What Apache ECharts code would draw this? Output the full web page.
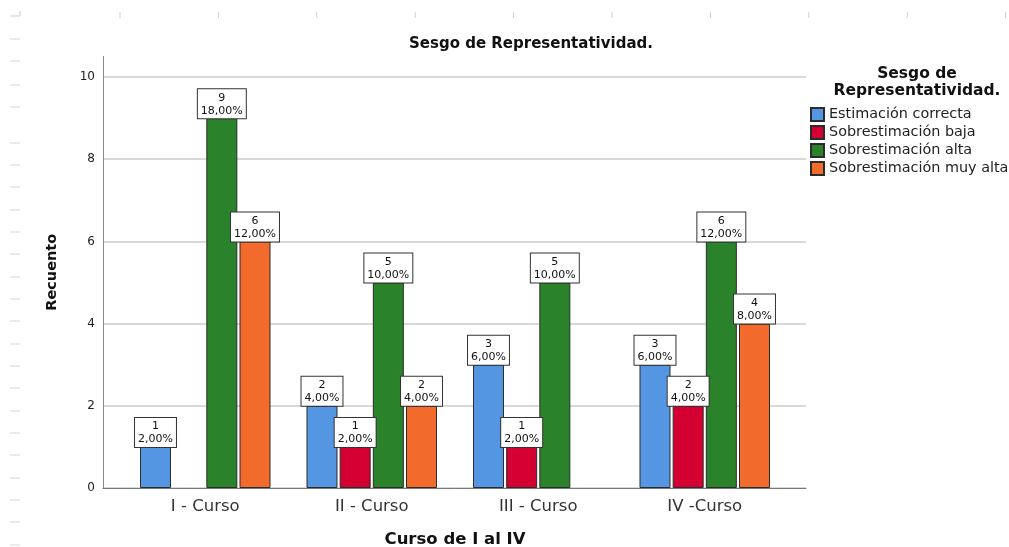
<!DOCTYPE html>
<html>
<head>
<meta charset="utf-8">
<script src="https://cdn.jsdelivr.net/npm/echarts@6/dist/echarts.min.js"></script>
<style>
  html, body { margin: 0; padding: 0; background: #ffffff; }
  #chart { width: 1009px; height: 547px; }
</style>
</head>
<body>
<div id="chart"></div>
<script>
// Cursos y recuentos por categoría de sesgo
const cursos = ['I - Curso', 'II - Curso', 'III - Curso', 'IV -Curso'];
const estimacionCorrecta = [1, 2, 3, 3];
const sobreBaja = [0, 1, 1, 2];
const sobreAlta = [9, 5, 5, 6];
const sobreMuyAlta = [6, 2, 0, 4];
const yTicks = [0, 2, 4, 6, 8, 10];

const seriesDefs = [
  { name: 'Estimación correcta', data: estimacionCorrecta, color: '#5596e2' },
  { name: 'Sobrestimación baja', data: sobreBaja, color: '#d50032' },
  { name: 'Sobrestimación alta', data: sobreAlta, color: '#2a832a' },
  { name: 'Sobrestimación muy alta', data: sobreMuyAlta, color: '#f26a2c' }
];

// Total de casos para calcular porcentajes
const total = seriesDefs.reduce((s, d) => s + d.data.reduce((a, b) => a + b, 0), 0);
const fmtPct = v => (v / total * 100).toFixed(2).replace('.', ',') + '%';

const font = '"DejaVu Sans", Arial, sans-serif';

const chart = echarts.init(document.getElementById('chart'), null, { renderer: 'canvas' });

// Marcas de regla decorativas en los bordes
const deco = [];
for (let i = 0; i < 10; i++) {
  const x = 120 + i * 98.4;
  deco.push({ type: 'line', shape: { x1: x, y1: 12, x2: x, y2: 18 }, style: { stroke: '#cfcfcf', lineWidth: 1 }, silent: true });
}
deco.push({ type: 'polyline', shape: { points: [[10, 16], [20, 16], [20, 11]] }, style: { stroke: '#cfcfcf', lineWidth: 1, fill: null }, silent: true });
const leftMarks = [39, 61, 85, 107, 143, 165, 187, 210, 232, 254, 277, 299, 321, 344, 366, 388, 411, 433, 455, 478, 500, 522, 545];
leftMarks.forEach(y => {
  deco.push({ type: 'line', shape: { x1: 10, y1: y, x2: 20, y2: y }, style: { stroke: '#d6d6d6', lineWidth: 1 }, silent: true });
});

const option = {
  backgroundColor: '#ffffff',
  animation: false,
  textStyle: { fontFamily: font },
  title: [
    {
      text: 'Sesgo de Representatividad.',
      left: 404, top: 32,
      textStyle: { fontSize: 15, fontWeight: 'bold', color: '#111', fontFamily: font }
    },
    {
      text: 'Sesgo de\nRepresentatividad.',
      left: 912, top: 60, textAlign: 'center',
      textStyle: { fontSize: 15.5, fontWeight: 'bold', color: '#111', fontFamily: font, lineHeight: 17 }
    }
  ],
  legend: {
    orient: 'vertical',
    left: 805, top: 102,
    itemWidth: 13, itemHeight: 13, itemGap: 3,
    icon: 'rect',
    textStyle: { fontSize: 14.4, color: '#222', fontFamily: font },
    data: seriesDefs.map(d => d.name)
  },
  grid: [
    // barras
    { left: 122, right: 221, top: 56.5, bottom: 59, outerBoundsMode: 'none' },
    // marco: ejes y líneas de cuadrícula a todo el ancho
    { left: 103, right: 203, top: 56.5, bottom: 59, outerBoundsMode: 'none' }
  ],
  xAxis: [
    {
      type: 'category', gridIndex: 0, data: cursos,
      axisLine: { show: false }, axisTick: { show: false },
      axisLabel: { fontSize: 16.5, color: '#333', margin: 10, fontFamily: font },
      name: 'Curso de I al IV', nameLocation: 'middle', nameGap: 43,
      nameTextStyle: { fontSize: 16.5, fontWeight: 'bold', color: '#111', fontFamily: font }
    },
    {
      type: 'value', gridIndex: 1, min: 0, max: 1,
      axisLine: { show: true, onZero: false, lineStyle: { color: '#777', width: 1 } },
      axisTick: { show: false }, axisLabel: { show: false }, splitLine: { show: false }
    }
  ],
  yAxis: [
    {
      type: 'value', gridIndex: 0, min: 0, max: 10.5, interval: 2,
      axisLine: { show: false }, axisTick: { show: false },
      axisLabel: { show: false }, splitLine: { show: false }
    },
    {
      type: 'value', gridIndex: 1, min: 0, max: 10.5, interval: 2,
      axisLine: { show: true, lineStyle: { color: '#888', width: 1 } },
      axisTick: { show: false },
      axisLabel: {
        fontSize: 12, color: '#222', margin: 8, fontFamily: font, showMaxLabel: false,
        formatter: v => (yTicks.includes(v) ? String(v) : '')
      },
      splitLine: { show: true, showMaxLine: false, lineStyle: { color: '#d9d9d9', width: 2 } },
      name: 'Recuento', nameLocation: 'middle', nameGap: 43, nameRotate: 90,
      nameTextStyle: { fontSize: 14.5, fontWeight: 'bold', color: '#111', fontFamily: font }
    }
  ],
  series: seriesDefs.map(d => ({
    name: d.name,
    type: 'bar',
    xAxisIndex: 0, yAxisIndex: 0,
    barWidth: 31,
    barGap: '7%',
    itemStyle: { color: d.color, borderColor: '#2b2b2b', borderWidth: 1 },
    label: {
      show: true,
      position: 'top',
      distance: 0,
      formatter: p => p.value + '\n' + fmtPct(p.value),
      fontSize: 11, lineHeight: 13, color: '#111', fontFamily: font,
      backgroundColor: '#ffffff', borderColor: '#333', borderWidth: 1,
      padding: [2, 3, 1, 3]
    },
    z: 3,
    // un recuento de cero no dibuja barra
    data: d.data.map(v => (v === 0 ? null : v))
  })),
  graphic: deco
};

chart.setOption(option);
</script>
</body>
</html>
